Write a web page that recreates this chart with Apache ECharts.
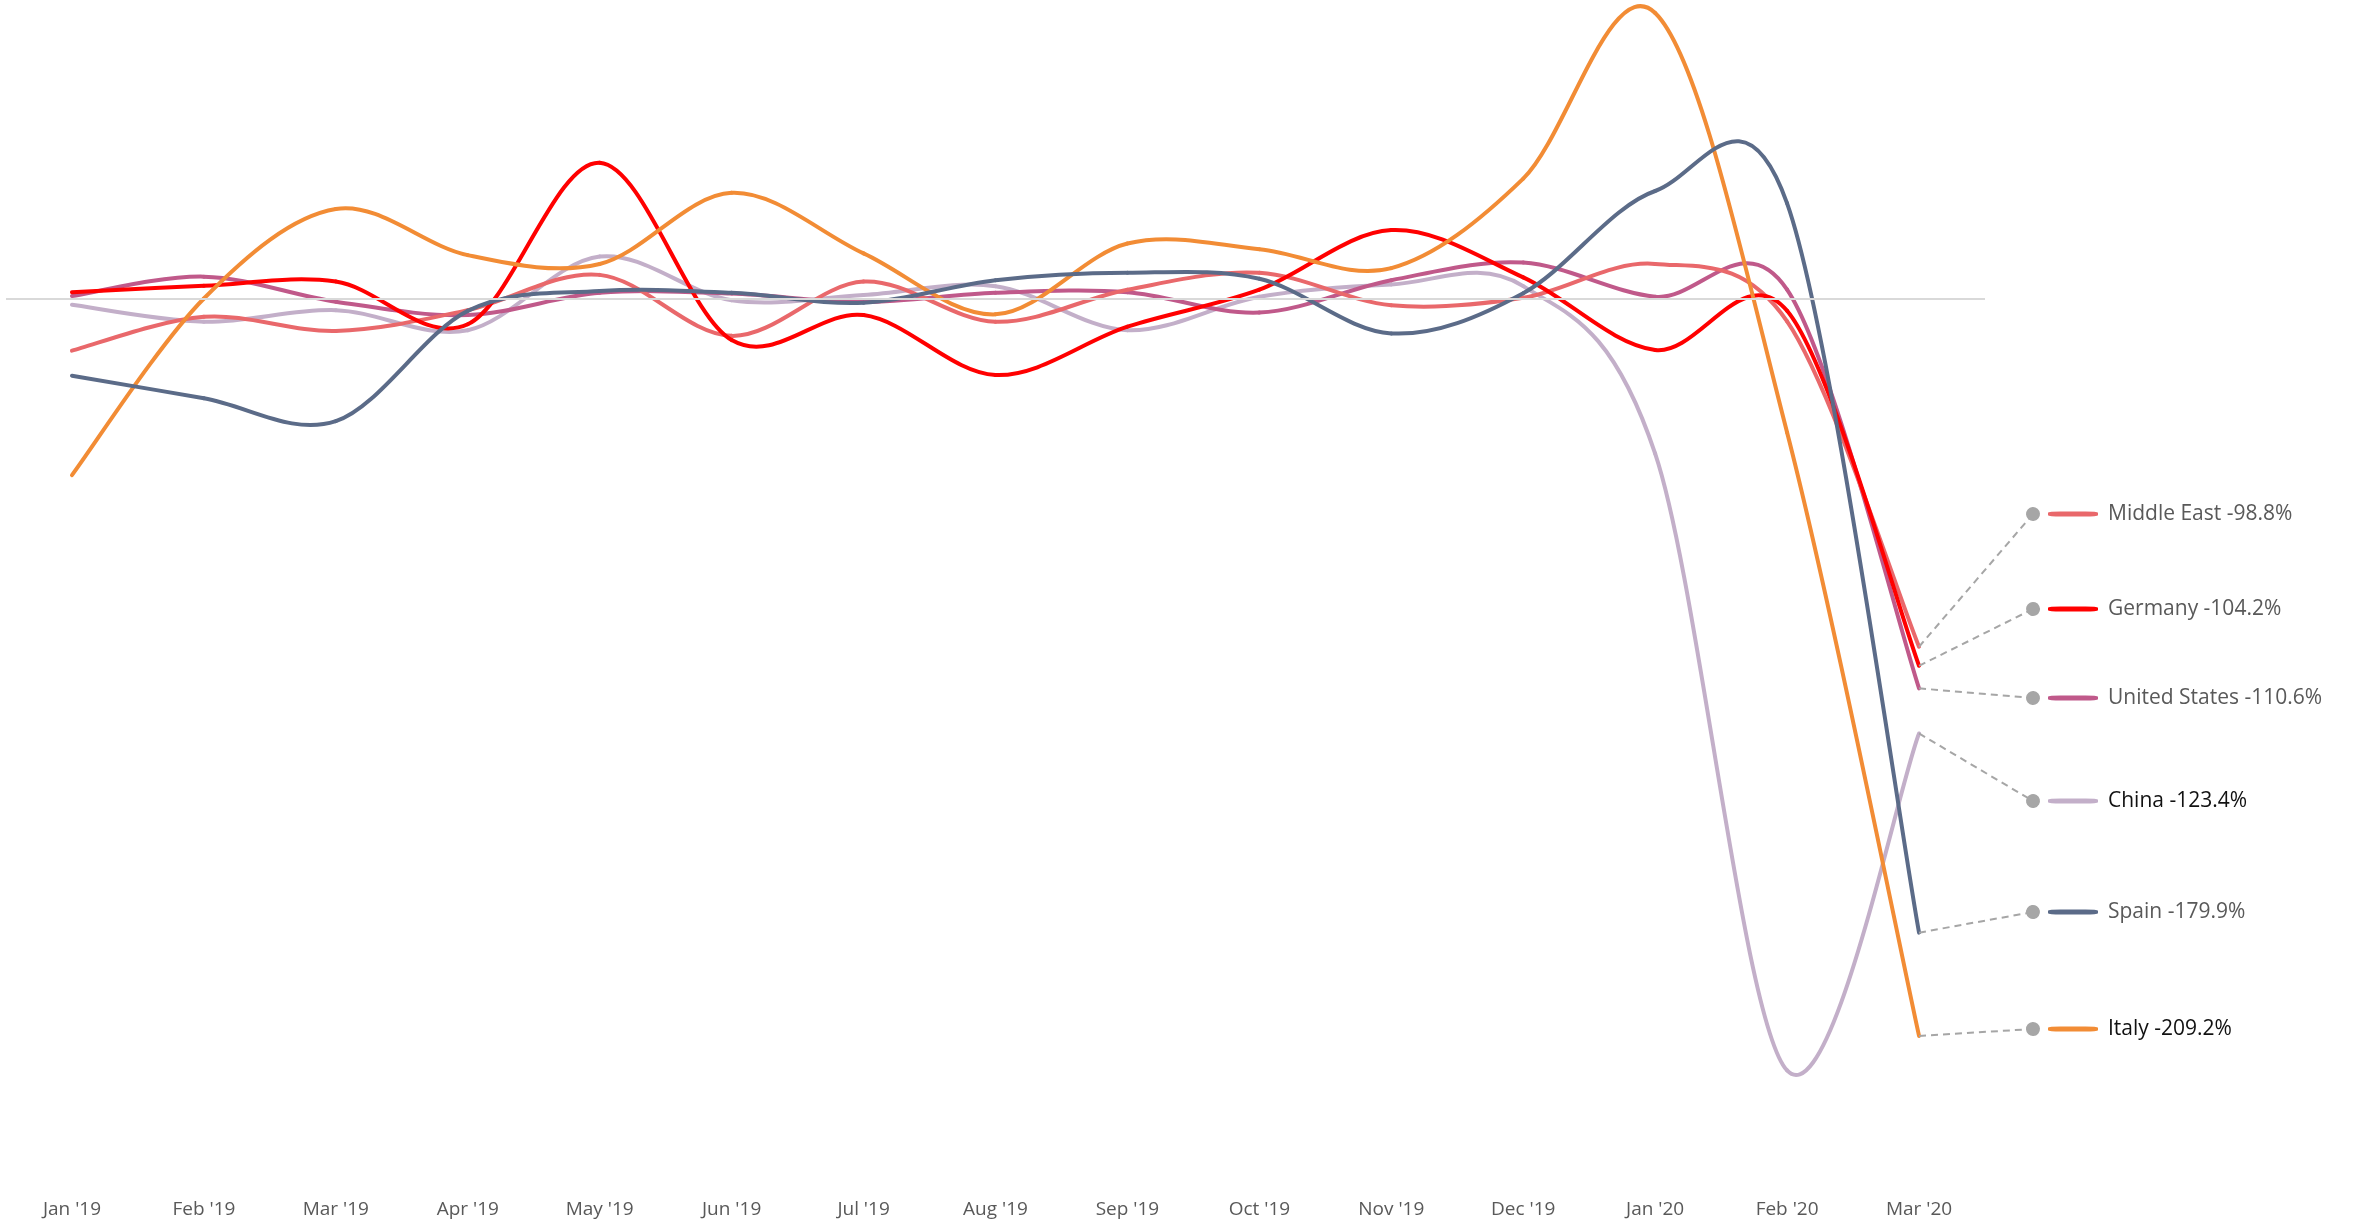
<!DOCTYPE html>
<html>
<head>
<meta charset="utf-8">
<title>Monthly change by market</title>
<script src="https://cdn.jsdelivr.net/npm/echarts@6/dist/echarts.min.js"></script>
<style>
  html, body { margin: 0; padding: 0; background: #fff; }
  #chart { width: 2356px; height: 1222px; }
</style>
</head>
<body>
<div id="chart"></div>
<script>
// categories
const months = ["Jan '19", "Feb '19", "Mar '19", "Apr '19", "May '19", "Jun '19", "Jul '19",
  "Aug '19", "Sep '19", "Oct '19", "Nov '19", "Dec '19", "Jan '20", "Feb '20", "Mar '20"];

// % change per market (last point = labelled value)
const middleEast   = [-14.8, -5.2, -9.2, -3.3, 6.7, -10.6, 4.8, -6.6, 2.5, 7.3, -1.9, 0.2, 9.8, -6.5, -98.8];
const germany      = [1.8, 3.6, 4.8, -7.3, 38.5, -11.8, -4.7, -21.7, -8.0, 2.5, 19.4, 6.0, -14.6, -3.5, -104.2];
const unitedStates = [0.7, 6.2, -0.9, -4.7, 1.6, 1.4, -1.0, 1.6, 1.8, -4.0, 5.2, 10.2, 0.5, 2.5, -110.6];
const china        = [-1.8, -6.6, -3.3, -9.0, 11.9, -0.5, 1.0, 3.5, -9.0, 0.5, 4.0, 3.5, -44.0, -219.0, -123.4];
const spain        = [-21.9, -28.3, -34.8, -3.5, 2.1, 1.6, -1.2, 5.2, 7.3, 5.6, -9.9, 1.5, 30.5, 27.0, -179.9];
const italy        = [-50.1, 0.0, 25.4, 12.3, 9.8, 30.0, 12.8, -4.5, 15.6, 14.0, 8.6, 34.0, 81.0, -38.0, -209.2];

// drawing order (last on top) and label layout on the right
const markets = [
  { name: "China", data: china, color: "#c3afc9", text: "#111111", labelY: 801 },
  { name: "United States", data: unitedStates, color: "#c0598a", text: "#595959", labelY: 698 },
  { name: "Middle East", data: middleEast, color: "#e9686b", text: "#595959", labelY: 514 },
  { name: "Germany", data: germany, color: "#ff0000", text: "#595959", labelY: 609 },
  { name: "Italy", data: italy, color: "#f28c35", text: "#111111", labelY: 1029 },
  { name: "Spain", data: spain, color: "#5b6b88", text: "#595959", labelY: 912 }
];

const dotX = 2033;
const barX = 2073;
const last = months.length - 1;

const chart = echarts.init(document.getElementById("chart"));

// excel style smoothing: one bezier per segment, catmull-rom control points
function smoothSegment(values, color) {
  return function (params, api) {
    const i = params.dataIndex;
    if (i >= values.length - 1) return null;
    const pt = function (k) { return api.coord([k, values[k]]); };
    const p0 = pt(Math.max(i - 1, 0));
    const p1 = pt(i);
    const p2 = pt(i + 1);
    const p3 = pt(Math.min(i + 2, values.length - 1));
    return {
      type: "bezierCurve",
      shape: {
        x1: p1[0], y1: p1[1],
        x2: p2[0], y2: p2[1],
        cpx1: p1[0] + (p2[0] - p0[0]) / 6,
        cpy1: p1[1] + (p2[1] - p0[1]) / 6,
        cpx2: p2[0] - (p3[0] - p1[0]) / 6,
        cpy2: p2[1] - (p3[1] - p1[1]) / 6
      },
      style: { stroke: color, lineWidth: 4, fill: null, lineCap: "round" }
    };
  };
}

// leader lines and the labels on the right
let leaderLines = [];
let labelPoints = [];
markets.forEach(function (m) {
  leaderLines.push([
    { coord: [months[last], m.data[last]] },
    { x: dotX, y: m.labelY }
  ]);
  labelPoints.push({
    x: barX,
    y: m.labelY,
    symbol: "roundRect",
    symbolSize: [50, 5],
    itemStyle: { color: m.color },
    label: {
      show: true,
      position: "right",
      distance: 10,
      formatter: m.name + " " + m.data[last].toFixed(1) + "%",
      color: m.text,
      fontSize: 21,
      fontFamily: "Open Sans"
    }
  });
});

let series = [
  {
    name: "zero",
    type: "line",
    data: [],
    z: 1,
    silent: true,
    markLine: {
      silent: true,
      symbol: "none",
      label: { show: false },
      lineStyle: { color: "#d9d9d9", width: 2, type: "solid" },
      data: [{ yAxis: 0 }]
    }
  },
  {
    name: "notes",
    type: "line",
    data: [],
    z: 1,
    silent: true,
    markLine: {
      silent: true,
      symbol: ["none", "circle"],
      symbolSize: 14,
      label: { show: false },
      lineStyle: { color: "#a6a6a6", width: 2, type: [7, 5] },
      data: leaderLines
    },
    markPoint: {
      silent: true,
      data: labelPoints
    }
  }
];

markets.forEach(function (m) {
  series.push({
    name: m.name,
    type: "custom",
    z: 2,
    clip: false,
    encode: { x: 0, y: 1 },
    data: m.data.map(function (v, k) { return [k, v]; }),
    renderItem: smoothSegment(m.data, m.color)
  });
});

let option = {
  backgroundColor: "#fff",
  animation: false,
  grid: { left: 6, width: 1979, top: 16.5, height: 1128 },
  xAxis: {
    type: "category",
    data: months,
    boundaryGap: true,
    axisLine: { show: false },
    axisTick: { show: false },
    axisLabel: { color: "#595959", fontSize: 19, fontFamily: "Open Sans", margin: 56 }
  },
  yAxis: {
    type: "value",
    min: -240,
    max: 80,
    show: false
  },
  series: series
};
chart.setOption(option);
</script>
</body>
</html>
